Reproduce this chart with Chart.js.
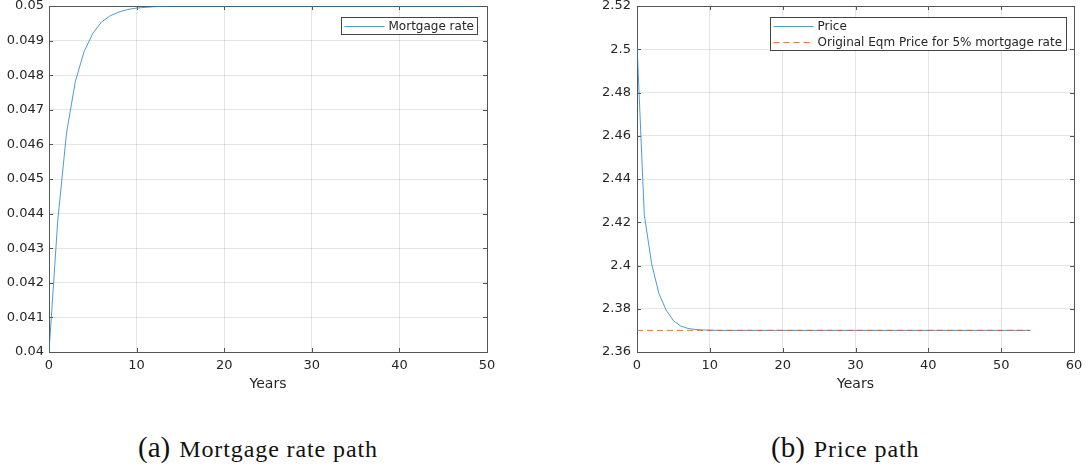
<!DOCTYPE html>
<html>
<head>
<meta charset="utf-8">
<script src="https://cdn.jsdelivr.net/npm/chart.js@4.4.1/dist/chart.umd.min.js"></script>
<style>
  body { margin: 0; background: #fff; width: 1090px; height: 471px; position: relative; overflow: hidden; }
  canvas { position: absolute; top: 0; }
  #rateChart { left: 0; }
  #priceChart { left: 580px; }
  .cap { position: absolute; top: 433px; font-family: 'Liberation Serif', serif; color: #111; white-space: nowrap; line-height: 28px; }
  .cap .lab { font-size: 29px; }
  .cap .txt { font-size: 24px; letter-spacing: 0.9px; margin-left: 9px; }
</style>
</head>
<body>
<canvas id="rateChart" width="520" height="400"></canvas>
<canvas id="priceChart" width="510" height="400"></canvas>
<div class="cap" style="left:138px"><span class="lab">(a)</span><span class="txt">Mortgage rate path</span></div>
<div class="cap" style="left:771px"><span class="lab">(b)</span><span class="txt">Price path</span></div>
<script>
// Mortgage rate, one value per year (0..49)
const rateValues = [
  0.0400, 0.0438, 0.04633, 0.04781, 0.04868, 0.04921, 0.04954, 0.04972, 0.04983, 0.0499,
  0.04994, 0.04996, 0.04998, 0.04999, 0.05, 0.05, 0.05, 0.05, 0.05, 0.05,
  0.05, 0.05, 0.05, 0.05, 0.05, 0.05, 0.05, 0.05, 0.05, 0.05,
  0.05, 0.05, 0.05, 0.05, 0.05, 0.05, 0.05, 0.05, 0.05, 0.05,
  0.05, 0.05, 0.05, 0.05, 0.05, 0.05, 0.05, 0.05, 0.05, 0.05
];

// House price, one value per year (0..54)
const priceValues = [
  2.502, 2.4235, 2.401, 2.3871, 2.3794, 2.3745, 2.372, 2.3709, 2.3704, 2.3702,
  2.3701, 2.37, 2.37, 2.37, 2.37, 2.37, 2.37, 2.37, 2.37, 2.37,
  2.37, 2.37, 2.37, 2.37, 2.37, 2.37, 2.37, 2.37, 2.37, 2.37,
  2.37, 2.37, 2.37, 2.37, 2.37, 2.37, 2.37, 2.37, 2.37, 2.37,
  2.37, 2.37, 2.37, 2.37, 2.37, 2.37, 2.37, 2.37, 2.37, 2.37,
  2.37, 2.37, 2.37, 2.37, 2.37
];

// Original equilibrium price (flat reference line)
const eqmYears = [0, 54];
const eqmValues = [2.37, 2.37];

const xTicksRate = { min: 0, max: 50, step: 10 };
const yTicksRate = { min: 0.04, max: 0.05, step: 0.001 };
const xTicksPrice = { min: 0, max: 60, step: 10 };
const yTicksPrice = { min: 2.36, max: 2.52, step: 0.02 };

const BLUE = '#1f82c8';
const ORANGE = '#D95319';
const TEXT = '#262626';
const GRID = 'rgba(38,38,38,0.12)';
const FONT = 'DejaVu Sans';

// MATLAB-ish box: frame, inward ticks, legend inside the axes
const matlabAxes = {
  id: 'matlabAxes',
  beforeDatasetsDraw(chart) {
    const { ctx, chartArea: a, scales: { x, y } } = chart;
    ctx.save();
    ctx.strokeStyle = '#555';
    ctx.lineWidth = 1;
    ctx.beginPath();
    x.ticks.forEach(t => {
      const px = Math.round(x.getPixelForValue(t.value)) + 0.5;
      ctx.moveTo(px, a.bottom); ctx.lineTo(px, a.bottom - 4);
      ctx.moveTo(px, a.top); ctx.lineTo(px, a.top + 4);
    });
    y.ticks.forEach(t => {
      const py = Math.round(y.getPixelForValue(t.value)) + 0.5;
      ctx.moveTo(a.left, py); ctx.lineTo(a.left + 4, py);
      ctx.moveTo(a.right, py); ctx.lineTo(a.right - 4, py);
    });
    ctx.stroke();
    ctx.strokeRect(Math.round(a.left) + 0.5, Math.round(a.top) + 0.5,
      Math.round(a.right - a.left), Math.round(a.bottom - a.top));
    ctx.restore();
  },
  afterDatasetsDraw(chart, args, opts) {
    const { ctx, chartArea: a } = chart;
    const items = chart.data.datasets.map(d => ({ label: d.label, color: d.borderColor, dash: d.borderDash || [] }));
    ctx.save();
    ctx.font = '12px "' + FONT + '"';
    const textW = Math.max(...items.map(i => ctx.measureText(i.label).width));
    const rowH = 16.5;
    const w = Math.round(47 + textW + 4);
    const h = Math.round(items.length * rowH);
    const left = Math.round(a.right - opts.right - w) + 0.5;
    const top = Math.round(a.top + opts.top) + 0.5;
    ctx.fillStyle = '#fff';
    ctx.fillRect(left, top, w, h);
    ctx.strokeStyle = '#444';
    ctx.lineWidth = 1;
    ctx.strokeRect(left, top, w, h);
    items.forEach((it, i) => {
      const cy = Math.round(top + rowH * (i + 0.5)) + 0.5;
      ctx.strokeStyle = it.color;
      ctx.lineWidth = 0.8;
      ctx.setLineDash(it.dash);
      ctx.beginPath();
      ctx.moveTo(left + 3, cy);
      ctx.lineTo(left + 43, cy);
      ctx.stroke();
      ctx.setLineDash([]);
      ctx.fillStyle = TEXT;
      ctx.textBaseline = 'middle';
      ctx.textAlign = 'left';
      ctx.fillText(it.label, left + 47, cy);
    });
    ctx.restore();
  }
};

function makeScales(xr, yr, yWidth, yDigits, yPad) {
  return {
    x: {
      type: 'linear', min: xr.min, max: xr.max,
      ticks: { stepSize: xr.step, padding: 6, color: TEXT, maxRotation: 0, font: { family: FONT, size: 13 } },
      grid: { color: GRID, drawTicks: false },
      border: { display: false },
      title: { display: true, text: 'Years', color: TEXT, font: { family: FONT, size: 14 }, padding: { top: 0, bottom: 7 } },
      afterFit: s => { s.height = 48; s.paddingLeft = 0; s.paddingRight = 0; }
    },
    y: {
      type: 'linear', min: yr.min, max: yr.max,
      ticks: {
        stepSize: yr.step, padding: yPad, color: TEXT, font: { family: FONT, size: 13 },
        callback: v => String(+v.toFixed(yDigits))
      },
      grid: { color: GRID, drawTicks: false },
      border: { display: false },
      afterFit: s => { s.width = yWidth; s.paddingTop = 0; s.paddingBottom = 0; }
    }
  };
}

new Chart(document.getElementById('rateChart'), {
  type: 'line',
  data: {
    datasets: [{
      label: 'Mortgage rate',
      data: rateValues.map((v, i) => ({ x: i, y: v })),
      borderColor: BLUE, borderWidth: 0.8, pointRadius: 0, tension: 0
    }]
  },
  options: {
    responsive: false,
    animation: false,
    layout: { padding: { top: 6, right: 33, left: 0, bottom: 0 } },
    plugins: { legend: { display: false }, tooltip: { enabled: false }, matlabAxes: { right: 10, top: 11 } },
    scales: makeScales(xTicksRate, yTicksRate, 49, 4, 5)
  },
  plugins: [matlabAxes]
});

new Chart(document.getElementById('priceChart'), {
  type: 'line',
  data: {
    datasets: [{
      label: 'Price',
      data: priceValues.map((v, i) => ({ x: i, y: v })),
      borderColor: BLUE, borderWidth: 0.8, pointRadius: 0, tension: 0, order: 1
    }, {
      label: 'Original Eqm Price for 5% mortgage rate',
      data: eqmYears.map((x, i) => ({ x: x, y: eqmValues[i] })),
      borderColor: ORANGE, borderWidth: 0.8, borderDash: [6, 4], pointRadius: 0, tension: 0, order: 0
    }]
  },
  options: {
    responsive: false,
    animation: false,
    layout: { padding: { top: 6, right: 16, left: 0, bottom: 0 } },
    plugins: { legend: { display: false }, tooltip: { enabled: false }, matlabAxes: { right: 8, top: 11 } },
    scales: makeScales(xTicksPrice, yTicksPrice, 57, 3, 6)
  },
  plugins: [matlabAxes]
});
</script>
</body>
</html>
